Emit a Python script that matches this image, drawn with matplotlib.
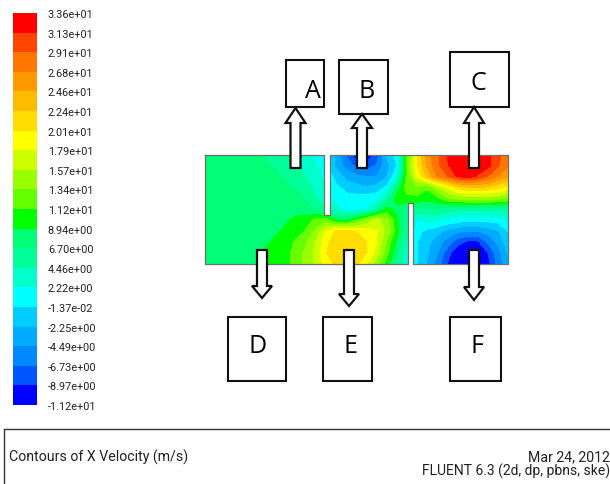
import numpy as np
import matplotlib
matplotlib.use("Agg")
import matplotlib.pyplot as plt
from matplotlib.colors import ListedColormap, BoundaryNorm
from matplotlib.patches import Polygon, Rectangle

W, H = 610, 485
LABEL_FONT = ['Roboto', 'DejaVu Sans']

level_labels = ["-1.12e+01", "-8.97e+00", "-6.73e+00", "-4.49e+00", "-2.25e+00", "-1.37e-02",
                "2.22e+00", "4.46e+00", "6.70e+00", "8.94e+00", "1.12e+01", "1.34e+01",
                "1.57e+01", "1.79e+01", "2.01e+01", "2.24e+01", "2.46e+01", "2.68e+01",
                "2.91e+01", "3.13e+01", "3.36e+01"]
levels = [float(s) for s in level_labels]

band_colors = ['#0000FF', '#0055FF', '#0088FF', '#00AAFF', '#00CCFF', '#00FFFF', '#00FFCC', '#00FF99',
               '#00FF77', '#00FF00', '#66FF00', '#99FF00', '#CCFF00', '#FFFF00', '#FFDD00', '#FFBB00',
               '#FF9900', '#FF7700', '#FF4400', '#FF0000']

r0 = [8, 8, 8, 8, 8, 7.8, 6.5, 6, 5.5, 4, 3, 1.5, 0.5, -3, -7, -11, -11.5, -8, -2, 1, 11, 20, 26, 28.5, 31.5, 33, 35, 35, 32, 29.5, 28]
r1 = [8, 8, 8, 8, 8, 8, 7, 6.4, 5.8, 4.5, 3.5, 2.5, 1, -3, -5.5, -7.5, -8, -6.5, -3, 0, 12, 20, 25, 28.5, 31, 33, 34, 33, 32, 29.5, 27]
r2 = [8, 8, 8, 8, 8, 8, 8, 7.2, 6.4, 6, 4.5, 3, 1.5, -1, -3, -4, -4.5, -4.5, -2.5, 2, 12, 18, 23, 27, 29, 31.5, 32.5, 31, 29, 26.5, 25]
r3 = [8, 8, 8, 8, 8, 8, 8, 8, 7.2, 6.4, 5.5, 3.5, 2, 0.5, -1, -1.5, -2, -1.5, 0.5, 7, 12.5, 13, 11.5, 15, 18, 21, 22, 22.5, 22, 21, 19]
r4 = [8, 8, 8, 8, 8, 8, 8, 8, 8, 7.5, 6.4, 4.5, 2.5, 1.5, 1, 0.8, 1, 1.5, 4.5, 10.5, 10.5, 10.5, 10, 10.5, 13, 14, 14.5, 14.5, 14.5, 14, 13]
r5 = [8, 8, 8, 8, 8, 8, 8, 8, 8, 8, 7.5, 6.4, 5, 3, 1.5, 1, 2, 5, 10, 8, 6, 6, 6, 6.5, 5.5, 5, 5, 5, 5, 5, 5]
r6 = [8, 8, 8, 8, 8, 8, 8, 8, 8.5, 9.5, 10, 12, 12, 9, 8.5, 11, 14, 16.5, 14, 9.5, 5, 2, 2.5, 2.5, 1.5, 1, 0.5, 0.5, 0.5, 0.8, 2]
r7 = [8, 8, 8, 8, 8, 8, 8, 8.5, 9.5, 10, 11.5, 14, 18, 20.5, 20.5, 20, 19, 18, 15, 10, 5, 0.5, -0.5, -1.5, -3, -4, -4.5, -4.5, -3.5, -2.5, 0]
r8 = [8, 8, 8, 8, 8, 8, 8.5, 9.5, 10, 11.5, 13, 16, 19.5, 21.5, 22, 22, 20, 18, 13, 8.5, 4, 0, -1.5, -3.5, -5.5, -8, -9.5, -9.5, -6.5, -4, -1]
r9 = [8, 8, 8, 8, 8, 8.5, 9.5, 10, 10.5, 12, 14, 16.5, 20, 21.5, 22, 22, 20, 17, 12, 7, 3, 0, -2, -4.5, -8, -11, -13, -13, -9, -5.5, -2]
r10 = [8, 8, 8, 8, 8, 8, 9, 10, 10.5, 12, 14, 16, 19, 20.5, 21, 20.5, 18, 14, 10, 6, 3, 0, -2.5, -5.5, -9, -12, -14, -14, -10, -6, -3]
velocity = np.array([r0, r1, r2, r3, r4, r5, r6, r7, r8, r9, r10], dtype=float)

box_names = ["A", "B", "C", "D", "E", "F"]
boxes = [(285.7, 61, 323.7, 108), (339, 61, 388, 115), (450, 53, 509, 108),
         (228, 318, 286, 382), (323, 318, 372, 382), (450, 318, 501, 382)]
box_text = [(313, 91), (367, 91), (478, 83), (258, 347), (351, 347), (477, 347)]
# centre x, shaft far end y, head base y, tip y
arrows = [(295.5, 169, 124, 109), (362, 169, 129, 115), (474, 169, 124, 108),
          (262, 251, 287, 299), (349, 251, 295, 307), (474, 251, 288, 301)]

cmap = ListedColormap(band_colors)
norm = BoundaryNorm(levels, cmap.N)
fig = plt.figure(figsize=(W / 100, H / 100), dpi=100, facecolor='white')


def px_axes(x0, y0, x1, y1, **kw):
    return fig.add_axes([x0 / W, 1 - y1 / H, (x1 - x0) / W, (y1 - y0) / H], **kw)


# colour scale
cax = px_axes(13, 14, 36.7, 406)
even = np.linspace(levels[0], levels[-1], 21)
cax.pcolormesh([0, 1], even, np.arange(20).reshape(-1, 1), cmap=cmap, vmin=-0.5, vmax=19.5)
cax.set_xticks([])
cax.set_ylim(even[0], even[-1])
cax.set_yticks(even, level_labels, family=LABEL_FONT, fontsize=7.8, color='#222222')
cax.yaxis.tick_right()
cax.tick_params(axis='y', length=0, pad=8)
for s in cax.spines.values():
    s.set_visible(False)

# contour field
fx0, fx1, fy0, fy1 = 205, 508, 155.5, 265
ax = px_axes(fx0, fy0, fx1, fy1)
x = np.linspace(0, 1, velocity.shape[1])
y = np.linspace(0, 1, velocity.shape[0])
ax.contourf(x, y, velocity, levels=levels, cmap=cmap, norm=norm, extend='both')
ax.set_xlim(0, 1)
ax.set_ylim(1, 0)
ax.axis('off')

# overlay in pixel coordinates
ov = px_axes(0, 0, W, H)
ov.set_xlim(0, W)
ov.set_ylim(H, 0)
ov.axis('off')
ov.patch.set_alpha(0)

grey = '#6e6e6e'
ov.add_patch(Rectangle((324, fy0 - 1), 6, 217 - fy0 + 1, fc='white', ec='none', zorder=2))
ov.add_patch(Rectangle((407.5, 204), 5.5, fy1 - 204 + 1, fc='white', ec='none', zorder=2))
outline_x = [fx0, 324, 324, 330, 330, fx1, fx1, 413, 413, 407.5, 407.5, fx0, fx0]
outline_y = [fy0, fy0, 216, 216, fy0, fy0, fy1, fy1, 204, 204, fy1, fy1, fy0]
ov.plot(outline_x, outline_y, color=grey, lw=0.9, zorder=3)

for (x0, y0, x1, y1), name, (tx, ty) in zip(boxes, box_names, box_text):
    ov.add_patch(Rectangle((x0, y0), x1 - x0, y1 - y0, fc='white', ec='#111111', lw=1.5, zorder=4))
    ov.text(tx, ty, name, family='Open Sans', fontsize=18, ha='center', va='center', color='#000000', zorder=6)

for cx, far, base, tip in arrows:
    pts = [(cx - 5, far), (cx - 5, base), (cx - 10, base), (cx, tip), (cx + 10, base), (cx + 5, base), (cx + 5, far)]
    ov.add_patch(Polygon(pts, closed=True, fc='white', ec='#111111', lw=1.6, zorder=5))

# footer
ov.plot([3.5, 3.5, W], [H, 429.5, 429.5], color='#333333', lw=1, zorder=3)
ov.text(9, 457, "Contours of X Velocity (m/s)", family=LABEL_FONT, fontsize=10.2, va='center', ha='left', color='#222222')
ov.text(610, 457, "Mar 24, 2012", family=LABEL_FONT, fontsize=10.2, va='center', ha='right', color='#222222')
ov.text(610, 471, "FLUENT 6.3 (2d, dp, pbns, ske)", family=LABEL_FONT, fontsize=10, va='center', ha='right', color='#222222')

fig.savefig("out.png", dpi=100, facecolor='white')
